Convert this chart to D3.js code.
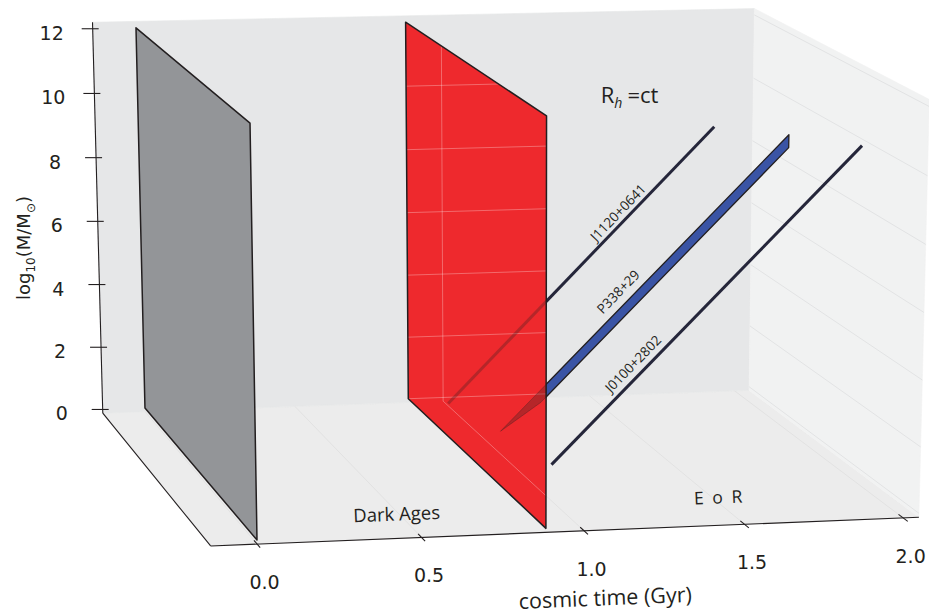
<!DOCTYPE html>
<html>
<head>
<meta charset="utf-8">
<script src="https://cdn.jsdelivr.net/npm/d3@7"></script>
<style>
  body { margin: 0; background: #fff; }
  text { fill: #231f20; }
</style>
</head>
<body>
<svg id="chart" width="929" height="614"></svg>
<script>
// axis ticks
const timeTicks = [0.0, 0.5, 1.0, 1.5, 2.0];
const massTicks = [0, 2, 4, 6, 8, 10, 12];

// vertical planes: big bang and end of the dark ages
const planeTimes = [0.0, 0.882];
const planeMass = [0, 12];

// quasar growth tracks, log10(M/Msun) against cosmic time (Gyr)
const quasarNames = ["J1120+0641", "P338+29", "J0100+2802"];
const quasarLane = [0.70, 0.47, 0.215];   // depth slot
const seedTime = [0.887, 0.955, 1.00];
const seedMass = [1.00, 1.00, 0.98];
const endTime = [1.76, 1.88, 1.97];
const endMass = [9.41, 9.82, 10.24];
// lower edge of the P338+29 band
const bandTime = [0.955, 1.085, 1.88];
const bandMass = [1.00, 1.85, 9.43];

const eras = ["Dark Ages", "E o R"];
const eraTime = [0.475, 1.5];

const svg = d3.select("#chart");
const ink = "#231f20";

// box scales: data -> unit cube
const x = d3.scaleLinear().domain([-0.14, 2.05]).range([0, 1]);
const y = d3.scaleLinear().domain([0, 1]).range([0, 1]);      // front -> back
const z = d3.scaleLinear().domain([-0.12, 12.2]).range([0, 1]);

// perspective camera (unit cube -> screen), homogeneous
const camera = [
  [732.34, -97.1, -13.761, 210.318],
  [-14.454, -90.0, -431.2, 545.124],
  [0.027375, 0.103, -0.026365, 0.998507]
];

function project(t, d, m) {
  const X = x(t), Y = y(d), Z = z(m);
  const r = camera.map(row => row[0] * X + row[1] * Y + row[2] * Z + row[3]);
  return [r[0] / r[2], r[1] / r[2]];
}

const line = d3.line();
const shape = (pts, closed) => line(pts.map(p => project(p[0], p[1], p[2]))) + (closed ? "Z" : "");

const [t0, t1] = x.domain();
const [m0, m1] = z.domain();

// panes
const panes = [
  { pts: [[t0, 0, m0], [t1, 0, m0], [t1, 1, m0], [t0, 1, m0]], fill: "#ececec" },
  { pts: [[t0, 1, m0], [t1, 1, m0], [t1, 1, m1], [t0, 1, m1]], fill: "#e6e7e8" },
  { pts: [[t1, 0, m0], [t1, 1, m0], [t1, 1, m1], [t1, 0, m1]], fill: "#f1f2f2" }
];
svg.selectAll("path.pane").data(panes).join("path")
  .attr("class", "pane")
  .attr("d", p => shape(p.pts, true))
  .attr("fill", p => p.fill)
  .attr("stroke", p => p.fill)
  .attr("stroke-width", 0.6);

// grid lines on right wall and floor
svg.selectAll("path.rgrid").data(massTicks).join("path")
  .attr("class", "rgrid")
  .attr("d", m => shape([[t1, 1, m], [t1, 0, m]]))
  .attr("stroke", "#e2e3e4").attr("fill", "none");
svg.selectAll("path.fgrid").data(timeTicks).join("path")
  .attr("class", "fgrid")
  .attr("d", t => shape([[t, 1, m0], [t, 0, m0]]))
  .attr("stroke", "#e2e2e2").attr("fill", "none");

// box edges
const edges = [
  [[t0, 0, m0], [t1, 0, m0]],
  [[t0, 0, m0], [t0, 1, m0]],
  [[t0, 1, m0], [t0, 1, m1]]
];
svg.selectAll("path.edge").data(edges).join("path")
  .attr("class", "edge")
  .attr("d", e => shape(e))
  .attr("stroke", ink).attr("stroke-width", 1.1).attr("fill", "none");

// mass ticks + labels
massTicks.forEach(m => {
  const [px, py] = project(t0, 1, m);
  svg.append("line").attr("x1", px - 11).attr("x2", px + 6).attr("y1", py).attr("y2", py)
    .attr("stroke", ink).attr("stroke-width", 1.1);
  svg.append("text").attr("x", px - 41).attr("y", py + 4)
    .attr("text-anchor", "middle").attr("dominant-baseline", "central")
    .style("font", "19px 'DejaVu Sans'").text(m);
});

// time ticks + labels
timeTicks.forEach(t => {
  const a = project(t, -0.025, m0), b = project(t, 0.025, m0), c = project(t, 0, m0);
  svg.append("line").attr("x1", a[0]).attr("y1", a[1]).attr("x2", b[0]).attr("y2", b[1])
    .attr("stroke", ink).attr("stroke-width", 1.1);
  svg.append("text").attr("x", c[0] + 7.5).attr("y", c[1] + 38)
    .attr("text-anchor", "middle").attr("dominant-baseline", "central")
    .style("font", "19px 'DejaVu Sans'").text(t.toFixed(1));
});

// big bang plane (grey)
const planeShape = t => shape([[t, 1, planeMass[0]], [t, 0, planeMass[0]], [t, 0, planeMass[1]], [t, 1, planeMass[1]]], true);
svg.append("path").attr("d", planeShape(planeTimes[0]))
  .attr("fill", "#939598").attr("stroke", ink).attr("stroke-width", 1.5).attr("stroke-linejoin", "round");

// growth tracks
function trackShape(i) {
  const lane = quasarLane[i];
  if (quasarNames[i] === "P338+29") {
    const upper = [[seedTime[i], lane, seedMass[i]], [endTime[i], lane, endMass[i]]];
    const lower = bandTime.map((t, k) => [t, lane, bandMass[k]]).reverse();
    return shape(upper.concat(lower), true);
  }
  return shape([[seedTime[i], lane, seedMass[i]], [endTime[i], lane, endMass[i]]]);
}
const tracks = svg.append("g");
quasarNames.forEach((q, i) => {
  const band = q === "P338+29";
  tracks.append("path").attr("d", trackShape(i))
    .attr("fill", band ? "#3a54a5" : "none")
    .attr("stroke", band ? ink : "#25263a")
    .attr("stroke-width", band ? 1.3 : 3)
    .attr("stroke-linejoin", "round");
});

// end of dark ages plane (red), tracks behind it show through
const redD = planeShape(planeTimes[1]);
svg.append("clipPath").attr("id", "redClip").append("path").attr("d", redD);
svg.append("path").attr("d", redD).attr("fill", "#ee292d");
const through = svg.append("g").attr("clip-path", "url(#redClip)");
massTicks.forEach(m => through.append("path").attr("d", shape([[t0, 1, m], [t1, 1, m]])));
timeTicks.forEach(t => {
  through.append("path").attr("d", shape([[t, 1, m0], [t, 1, m1]]));
  through.append("path").attr("d", shape([[t, 1, m0], [t, 0, m0]]));
});
through.selectAll("path").attr("stroke", "#fff").attr("stroke-opacity", 0.3).attr("fill", "none");
quasarNames.forEach((q, i) => {
  const band = q === "P338+29";
  through.append("path").attr("d", trackShape(i))
    .attr("fill", band ? ink : "none").attr("fill-opacity", 0.28)
    .attr("stroke", ink).attr("stroke-opacity", 0.28)
    .attr("stroke-width", band ? 1 : 3);
});
svg.append("path").attr("d", redD).attr("fill", "none")
  .attr("stroke", ink).attr("stroke-width", 1.5).attr("stroke-linejoin", "round");

// quasar names along the tracks
const labelAt = [0.665, 0.44, 0.29];
const labelOff = [10, 13, 12];
quasarNames.forEach((q, i) => {
  const s = project(seedTime[i], quasarLane[i], seedMass[i]);
  const e = project(endTime[i], quasarLane[i], endMass[i]);
  const dx = e[0] - s[0], dy = e[1] - s[1], len = Math.hypot(dx, dy);
  const ux = dx / len, uy = dy / len;
  const cx = s[0] + labelAt[i] * dx + uy * labelOff[i];
  const cy = s[1] + labelAt[i] * dy - ux * labelOff[i];
  svg.append("text")
    .attr("transform", `translate(${cx},${cy}) rotate(${Math.atan2(dy, dx) * 180 / Math.PI})`)
    .attr("text-anchor", "middle").attr("dominant-baseline", "central")
    .style("font", "13.5px 'Open Sans'").text(q);
});

// floor annotations and axis title follow the front edge
const fl = project(t0, 0, m0), fr = project(t1, 0, m0);
const frontAngle = Math.atan2(fr[1] - fl[1], fr[0] - fl[0]) * 180 / Math.PI;
eras.forEach((name, i) => {
  const p = project(eraTime[i], i ? 0.15 : 0.12, m0);
  svg.append("text")
    .attr("transform", `translate(${p[0]},${p[1]}) rotate(${frontAngle})`)
    .attr("text-anchor", "middle")
    .style("font", i ? "17.5px 'Open Sans'" : "18.5px 'Open Sans'")
    .style("letter-spacing", i ? "2px" : "0px")
    .text(name);
});
const mid = project((t0 + t1) / 2, 0, m0);
svg.append("text")
  .attr("transform", `translate(${mid[0] + 36},${mid[1] + 74}) rotate(${frontAngle})`)
  .attr("text-anchor", "middle")
  .style("font", "21.5px 'Open Sans'")
  .text("cosmic time (Gyr)");

// cosmology tag on the back wall
const tag = project(1.533, 1, 9.34);
const rt = svg.append("text").attr("x", tag[0]).attr("y", tag[1]).style("font", "22px 'Open Sans'");
rt.append("tspan").text("R");
rt.append("tspan").attr("dy", 5).style("font-size", "14px").style("font-style", "italic").text("h");
rt.append("tspan").attr("dy", -5).attr("dx", 5).text("=ct");

// vertical axis title
const yl = svg.append("text").attr("transform", "translate(30,248) rotate(-90)")
  .attr("text-anchor", "middle").style("font", "18px 'DejaVu Sans'");
yl.append("tspan").text("log");
yl.append("tspan").attr("dy", 5).style("font-size", "12px").text("10");
yl.append("tspan").attr("dy", -5).text("(M/M");
yl.append("tspan").attr("dy", 5).style("font-size", "12px").text("⊙");
yl.append("tspan").attr("dy", -5).text(")");
</script>
</body>
</html>
